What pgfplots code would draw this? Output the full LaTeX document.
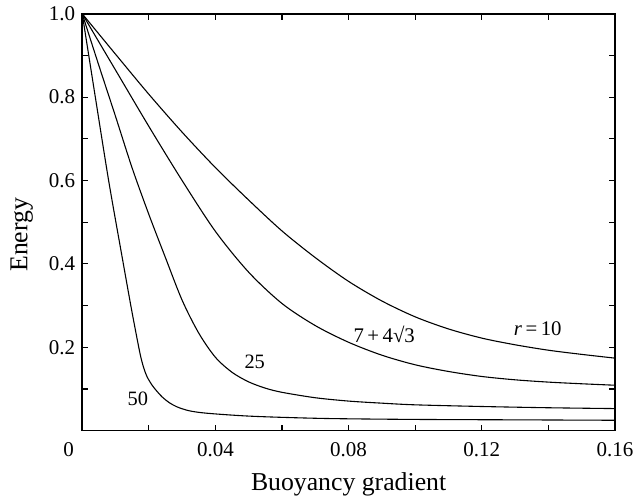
\documentclass[border=0pt]{standalone}
\usepackage{pgfplots}
\pgfplotsset{compat=1.18}
\usepackage{fontspec}
\setmainfont{Liberation Serif}
\usetikzlibrary{calc}
\begin{document}
\begin{tikzpicture}
\begin{axis}[
  name=ax,
  scale only axis,
  width=269pt, height=210.5pt,
  xmin=0, xmax=0.16, ymin=0, ymax=1,
  clip=false,
  axis line style={line width=0.8pt},
  tick style={line width=0.6pt, black},
  tick align=inside,
  major tick length=3pt, minor tick length=3pt,
  xtick={0,0.04,0.08,0.12,0.16},
  minor xtick={0.02,0.06,0.10,0.14},
  xticklabels={{\mbox{\makebox[0pt][r]{0\hspace{4.2pt}}}},{\mbox{0.04}},{\mbox{0.08}},{\mbox{0.12}},{\mbox{0.16}}},
  ytick={0.2,0.4,0.6,0.8,1.0},
  minor ytick={0.1,0.3,0.5,0.7,0.9},
  yticklabels={{\mbox{0.2}},{\mbox{0.4}},{\mbox{0.6}},{\mbox{0.8}},{\mbox{1.0}}},
  ticklabel style={font=\fontsize{10.6}{12}\selectfont},
  xticklabel style={yshift=-2.5pt},
  xlabel={Buoyancy gradient},
  ylabel={Energy},
  every axis x label/.style={at={(rel axis cs:0.5,0)}, anchor=center, yshift=-27pt, font=\fontsize{13}{15}\selectfont},
  every axis y label/.style={at={(rel axis cs:0,0.47)}, rotate=90, anchor=center, yshift=30.5pt, font=\fontsize{13}{15}\selectfont},
]
% r = 10
\addplot[black, line width=0.55pt, smooth] coordinates {(0,1) (0.01,0.903) (0.02,0.807) (0.03,0.716) (0.04,0.631) (0.05,0.553) (0.06,0.479) (0.07,0.415) (0.08,0.358) (0.09,0.311) (0.10,0.273) (0.11,0.244) (0.12,0.222) (0.13,0.206) (0.14,0.193) (0.15,0.183) (0.16,0.174)};
% 7 + 4 sqrt 3
\addplot[black, line width=0.55pt, smooth] coordinates {(0,1) (0.01,0.865) (0.02,0.73) (0.03,0.60) (0.04,0.478) (0.05,0.38) (0.06,0.305) (0.07,0.252) (0.08,0.212) (0.09,0.181) (0.10,0.158) (0.11,0.142) (0.12,0.130) (0.13,0.122) (0.14,0.1165) (0.15,0.1125) (0.16,0.109)};
% 25
\addplot[black, line width=0.55pt, smooth] coordinates {(0,1) (0.005,0.876) (0.01,0.754) (0.015,0.63) (0.02,0.519) (0.025,0.415) (0.03,0.313) (0.035,0.234) (0.04,0.176) (0.045,0.140) (0.05,0.117) (0.055,0.102) (0.06,0.092) (0.07,0.079) (0.08,0.071) (0.09,0.066) (0.10,0.062) (0.12,0.058) (0.14,0.055) (0.16,0.053)};
% 50
\addplot[black, line width=0.55pt, smooth] coordinates {(0,1) (0.004,0.797) (0.008,0.597) (0.012,0.416) (0.0146,0.30) (0.0163,0.228) (0.0175,0.18) (0.0185,0.15) (0.0195,0.129) (0.021,0.109) (0.0225,0.094) (0.024,0.081) (0.026,0.068) (0.0285,0.057) (0.032,0.048) (0.036,0.043) (0.042,0.039) (0.05,0.035) (0.06,0.032) (0.075,0.029) (0.10,0.027) (0.13,0.026) (0.16,0.025)};
\node[font=\fontsize{10.5}{12}\selectfont] at (axis cs:0.1368,0.244) {\textit{r}\,=\,10};
\node[font=\fontsize{10.5}{12}\selectfont] at (axis cs:0.0907,0.232) {7\,+\,4√3};
\node[font=\fontsize{10.3}{12}\selectfont] at (axis cs:0.0518,0.166) {25};
\node[font=\fontsize{10.3}{12}\selectfont] at (axis cs:0.0167,0.076) {50};
\end{axis}
\path ($(ax.south west)+(-41.5pt,-36pt)$) rectangle ($(ax.north east)+(9.5pt,6.5pt)$);
\end{tikzpicture}
\end{document}
